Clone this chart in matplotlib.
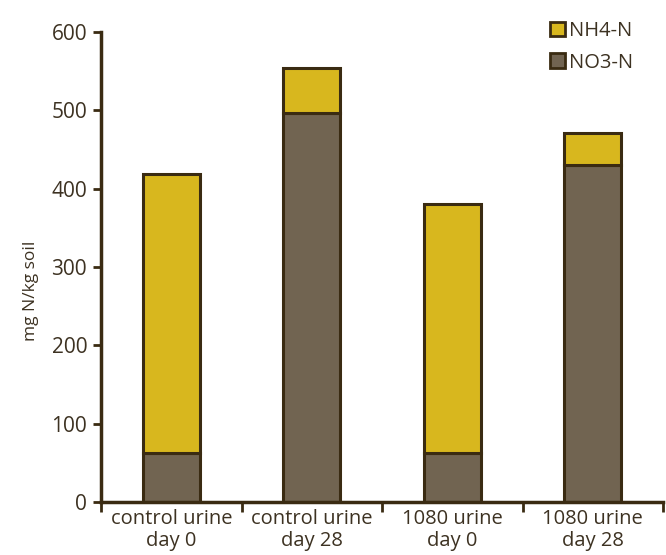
import matplotlib
matplotlib.use("Agg")
import matplotlib.pyplot as plt
from matplotlib.patches import Patch
import numpy as np

categories = ["control urine\nday 0", "control urine\nday 28", "1080 urine\nday 0", "1080 urine\nday 28"]
no3_n = [62, 497, 62, 430]
nh4_n = [357, 57, 318, 41]
y_ticks = [0, 100, 200, 300, 400, 500, 600]

dark = "#3a2b12"
text_col = "#3d3222"
col_nh4 = "#d8b71e"
col_no3 = "#716451"

plt.rcParams["font.family"] = ["Open Sans", "DejaVu Sans"]

fig = plt.figure(figsize=(6.66, 5.55), dpi=100)
ax = fig.add_axes([0.1517, 0.0955, 0.8438, 0.8468])

x = np.arange(len(categories))
w = 0.405
ax.bar(x, no3_n, w, color=col_no3, edgecolor=dark, linewidth=2.2, zorder=2)
ax.bar(x, nh4_n, w, bottom=no3_n, color=col_nh4, edgecolor=dark, linewidth=2.2, zorder=2)

ax.set_xlim(-0.5, len(categories) - 0.5)
ax.set_ylim(0, 600)
ax.set_yticks(y_ticks)
ax.set_xticks(x)
ax.set_xticklabels(categories, linespacing=1.12)
ax.set_xticks(np.arange(len(categories) + 1) - 0.5, minor=True)

ax.tick_params(axis="y", length=6, width=2, color=dark, labelsize=15, labelcolor=text_col, pad=4)
ax.tick_params(axis="x", which="major", length=0, labelsize=14.5, labelcolor=text_col, pad=5)
ax.tick_params(axis="x", which="minor", length=7, width=2, color=dark)

for s in ["top", "right"]:
    ax.spines[s].set_visible(False)
for s in ["left", "bottom"]:
    ax.spines[s].set_color(dark)
    ax.spines[s].set_linewidth(2.5)

ax.set_ylabel("mg N/kg soil", fontsize=12.5, color=text_col)
ax.yaxis.set_label_coords(-0.11, 0.449)

handles = [Patch(facecolor=col_nh4, edgecolor=dark, linewidth=2, label="NH4-N"),
           Patch(facecolor=col_no3, edgecolor=dark, linewidth=2, label="NO3-N")]
leg = fig.legend(handles=handles, loc="upper left", bbox_to_anchor=(550 / 666, 1 - 21 / 555),
                 frameon=False, fontsize=14.5, handlelength=0.75, handleheight=0.75,
                 handletextpad=0.2, labelspacing=0.58, borderaxespad=0, borderpad=0)
for t in leg.get_texts():
    t.set_color(text_col)

fig.savefig("out.png", dpi=100)
